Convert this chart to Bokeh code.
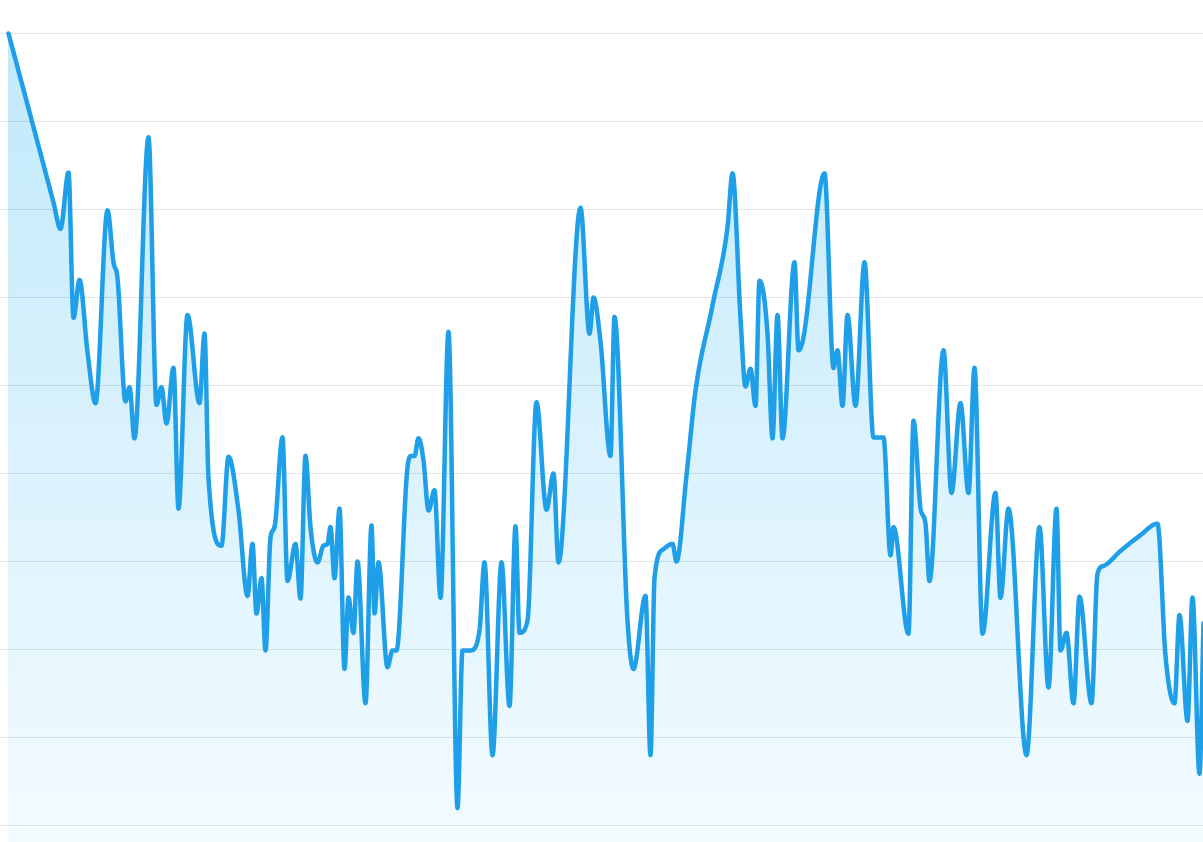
import numpy as np
from bokeh.plotting import figure
from bokeh.models import FixedTicker, Range1d
from bokeh.embed import file_html
from bokeh.resources import INLINE

# ---- data ----
t = [0, 20, 45, 52, 60, 65, 71, 79, 87, 99, 105, 109, 117, 121, 126, 140, 148, 153, 158, 165, 170, 179,
     191, 196, 200, 213, 220, 230, 239, 244, 248, 253, 257, 262, 266, 274, 279, 287, 292, 297, 302, 309,
     315, 319, 322, 326, 331, 336, 340, 345, 349, 357, 363, 366, 370, 379, 384, 388, 399, 403, 406, 410,
     415, 420, 426, 432, 440, 449, 454, 462, 471, 476, 484, 493, 501, 507, 511, 519, 528, 538, 545, 550,
     572, 581, 585, 592, 602, 606, 619, 625, 637, 642, 646, 655, 664, 668, 678, 687, 704, 719, 724, 732,
     737, 742, 747, 751, 759, 764, 769, 774, 786, 790, 795, 816, 825, 829, 834, 839, 847, 856, 865, 875,
     882, 885, 900, 905, 912, 917, 921, 935, 943, 952, 960, 966, 974, 987, 992, 1000, 1018, 1031, 1040, 1048,
     1052, 1058, 1065, 1071, 1083, 1089, 1095, 1112, 1132, 1149, 1157, 1166, 1171, 1179, 1184, 1191, 1195]
value = [90.0, 81.5, 70.8, 67.8, 74.2, 57.7, 62.0, 53.8, 48.0, 69.9, 64.0, 62.2, 48.2, 49.8, 44.0, 78.2, 47.8, 49.8, 45.7, 52.0, 36.0, 58.0,
         48.0, 55.9, 39.5, 31.8, 41.9, 35.8, 26.1, 32.0, 24.1, 28.1, 19.9, 32.7, 33.9, 44.1, 27.8, 32.0, 25.8, 42.0, 33.9, 29.9,
         31.8, 32.0, 33.9, 28.1, 36.0, 17.8, 25.9, 21.9, 30.0, 13.9, 34.1, 24.1, 29.9, 18.0, 19.9, 19.9, 40.7, 42.0, 42.0, 44.0,
         41.5, 35.8, 38.1, 25.9, 56.1, 2.0, 19.9, 19.9, 22.2, 29.9, 8.0, 29.9, 13.6, 34.0, 21.9, 23.3, 48.1, 35.9, 40.0, 29.9,
         70.2, 55.9, 60.0, 55.0, 42.0, 57.8, 23.3, 17.8, 26.1, 8.0, 28.1, 31.4, 32.0, 30.0, 39.8, 49.4, 59.1, 68.0, 74.1, 57.7,
         49.9, 51.9, 47.7, 61.9, 55.9, 44.0, 58.0, 44.0, 64.0, 54.0, 55.5, 74.1, 52.0, 54.0, 47.7, 58.0, 47.7, 64.0, 44.1, 44.1,
         30.7, 33.9, 21.8, 46.0, 36.1, 34.3, 27.8, 54.0, 37.8, 48.0, 37.8, 52.0, 21.8, 37.8, 25.9, 36.0, 8.0, 33.9, 15.7, 36.0,
         19.9, 21.9, 13.9, 26.0, 13.9, 28.6, 29.5, 31.2, 33.0, 34.3, 19.3, 13.9, 23.9, 11.9, 25.9, 5.9, 23.0]
grid_ticks = [0, 10, 20, 30, 40, 50, 60, 70, 80, 90]
assert len(t) == len(value)

LINE_COLOR = "#1E9FE8"
TOP_RGB = (190, 232, 250)
BOTTOM_RGB = (243, 251, 255)


def monotone_curve(x, y, per=24):
    """Fritsch-Carlson monotone cubic interpolation (as in Chart.js 'monotone')."""
    x = np.asarray(x, float)
    y = np.asarray(y, float)
    n = len(x)
    d = np.diff(y) / np.diff(x)
    m = np.zeros(n)
    m[0] = d[0]
    m[-1] = d[-1]
    for i in range(1, n - 1):
        m[i] = 0.0 if d[i - 1] * d[i] <= 0 else (d[i - 1] + d[i]) / 2
    for i in range(n - 1):
        if d[i] == 0:
            m[i] = m[i + 1] = 0.0
            continue
        a = m[i] / d[i]
        b = m[i + 1] / d[i]
        s = a * a + b * b
        if s > 9:
            tau = 3 / np.sqrt(s)
            m[i] = tau * a * d[i]
            m[i + 1] = tau * b * d[i]
    xs, ys = [], []
    for i in range(n - 1):
        h = x[i + 1] - x[i]
        s = np.linspace(0, 1, per, endpoint=(i == n - 2))
        h00 = 2 * s**3 - 3 * s**2 + 1
        h10 = s**3 - 2 * s**2 + s
        h01 = -2 * s**3 + 3 * s**2
        h11 = s**3 - s**2
        xs.append(x[i] + s * h)
        ys.append(h00 * y[i] + h10 * h * m[i] + h01 * y[i + 1] + h11 * h * m[i + 1])
    return np.concatenate(xs), np.concatenate(ys)


xs, ys = monotone_curve(t, value)

Y_TOP = 93.75
Y_BOT = -1.93

p = figure(width=1203, height=842, output_backend="svg", toolbar_location=None,
           x_range=Range1d(-8, 1195), y_range=Range1d(Y_BOT, Y_TOP),
           min_border=0, min_border_left=0, min_border_right=0,
           min_border_top=0, min_border_bottom=0)
p.axis.visible = False
p.outline_line_color = None
p.xgrid.grid_line_color = None
p.ygrid.ticker = FixedTicker(ticks=grid_ticks)
p.ygrid.grid_line_color = "black"
p.ygrid.grid_line_alpha = 0.1
p.ygrid.grid_line_width = 1
p.ygrid.level = "guide"
p.background_fill_color = "white"
p.border_fill_color = "white"

# gradient area: opaque bands painted from the top down
nb = 60
edges = np.linspace(Y_TOP, Y_BOT, nb + 1)
for k in range(nb):
    hi = edges[k]
    mid = (edges[k] + edges[k + 1]) / 2
    f = (Y_TOP - mid) / (Y_TOP - Y_BOT)
    rgb = tuple(int(round(TOP_RGB[j] + (BOTTOM_RGB[j] - TOP_RGB[j]) * f)) for j in range(3))
    col = "#%02x%02x%02x" % rgb
    p.varea(x=xs, y1=np.full_like(xs, Y_BOT - 5), y2=np.minimum(ys, hi),
            fill_color=col, fill_alpha=1.0)

line = p.line(xs, ys, line_color=LINE_COLOR, line_width=4.5,
              line_join="round", line_cap="round")
line.level = "annotation"

open("out.html", "w").write(file_html(p, INLINE))
